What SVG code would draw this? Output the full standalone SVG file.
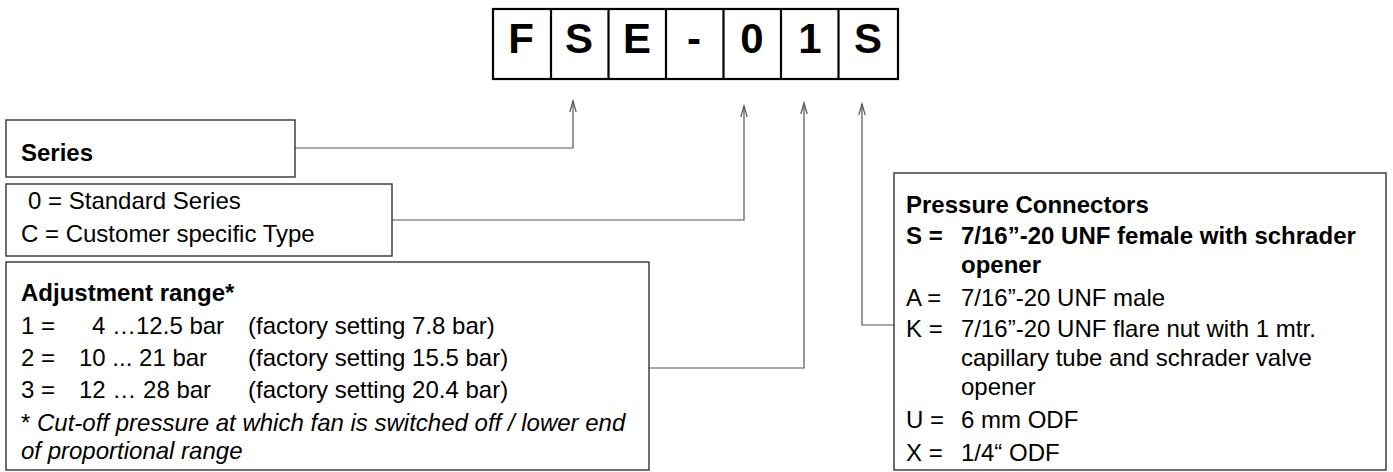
<svg xmlns="http://www.w3.org/2000/svg" width="1393" height="472" viewBox="0 0 1393 472">
<style>
  text { font-family: "Liberation Sans", Arial, sans-serif; font-size: 24px; fill: #000; }
  .b { font-weight: bold; }
  .i { font-style: italic; }
  .code { font-size: 42px; font-weight: bold; text-anchor: middle; }
  .box { fill: #fff; stroke: #333; stroke-width: 1.4; }
  .cell { fill: #fff; stroke: #000; stroke-width: 2.2; }
  .conn { fill: none; stroke: #555; stroke-width: 1.2; }
</style>
<defs>
  <marker id="arr" markerUnits="userSpaceOnUse" markerWidth="14" markerHeight="10" refX="0" refY="0" viewBox="-13 -5 14 10" orient="auto" overflow="visible">
    <path d="M-11,-3.2 L0,0 L-11,3.2" fill="none" stroke="#555" stroke-width="1.2"/>
  </marker>
</defs>

<g id="code">
  <rect class="cell" x="493" y="9" width="405" height="70"/>
  <line class="cell" x1="551" y1="9" x2="551" y2="79"/>
  <line class="cell" x1="608.5" y1="9" x2="608.5" y2="79"/>
  <line class="cell" x1="666" y1="9" x2="666" y2="79"/>
  <line class="cell" x1="723.5" y1="9" x2="723.5" y2="79"/>
  <line class="cell" x1="781" y1="9" x2="781" y2="79"/>
  <line class="cell" x1="838.5" y1="9" x2="838.5" y2="79"/>
  <text class="code" x="521" y="53">F</text>
  <text class="code" x="579" y="53">S</text>
  <text class="code" x="637" y="53">E</text>
  <text class="code" x="694" y="53">-</text>
  <text class="code" x="752" y="53">0</text>
  <text class="code" x="810" y="53">1</text>
  <text class="code" x="868" y="53">S</text>
</g>

<g id="connectors">
  <path class="conn" d="M295,148 H573 V101" marker-end="url(#arr)"/>
  <path class="conn" d="M392,220 H744 V106" marker-end="url(#arr)"/>
  <path class="conn" d="M649,368 H804 V103" marker-end="url(#arr)"/>
  <path class="conn" d="M894,325 H862 V104" marker-end="url(#arr)"/>
</g>

<g id="series">
  <rect class="box" x="6" y="120" width="289" height="57"/>
  <text class="b" x="21" y="161">Series</text>
</g>

<g id="series-options">
  <rect class="box" x="6" y="184" width="386" height="72"/>
  <text x="28" y="209">0 = Standard Series</text>
  <text x="21" y="242">C = Customer specific Type</text>
</g>

<g id="adjustment">
  <rect class="box" x="6" y="262" width="643" height="208"/>
  <text class="b" x="21" y="301">Adjustment range*</text>
  <text x="21" y="334">1 =</text>
  <text x="92" y="334">4 …12.5 bar</text>
  <text x="248" y="334">(factory setting 7.8 bar)</text>
  <text x="21" y="366">2 =</text>
  <text x="79" y="366">10 ... 21 bar</text>
  <text x="248" y="366">(factory setting 15.5 bar)</text>
  <text x="21" y="398">3 =</text>
  <text x="79" y="398">12 … 28 bar</text>
  <text x="248" y="398">(factory setting 20.4 bar)</text>
  <text x="21" y="431">* <tspan class="i">Cut-off pressure at which fan is switched off / lower end</tspan></text>
  <text class="i" x="21" y="459">of proportional range</text>
</g>

<g id="pressure">
  <rect class="box" x="894" y="173" width="492" height="297"/>
  <text class="b" x="906" y="213">Pressure Connectors</text>
  <text class="b" x="906" y="244">S =</text>
  <text class="b" x="961" y="244">7/16”-20 UNF female with schrader</text>
  <text class="b" x="961" y="273">opener</text>
  <text x="906" y="306">A =</text>
  <text x="961" y="306">7/16”-20 UNF male</text>
  <text x="906" y="337">K =</text>
  <text x="961" y="337">7/16”-20 UNF flare nut with 1 mtr.</text>
  <text x="961" y="366">capillary tube and schrader valve</text>
  <text x="961" y="395">opener</text>
  <text x="906" y="428">U =</text>
  <text x="961" y="428">6 mm ODF</text>
  <text x="906" y="461">X =</text>
  <text x="961" y="461">1/4“ ODF</text>
</g>
</svg>
